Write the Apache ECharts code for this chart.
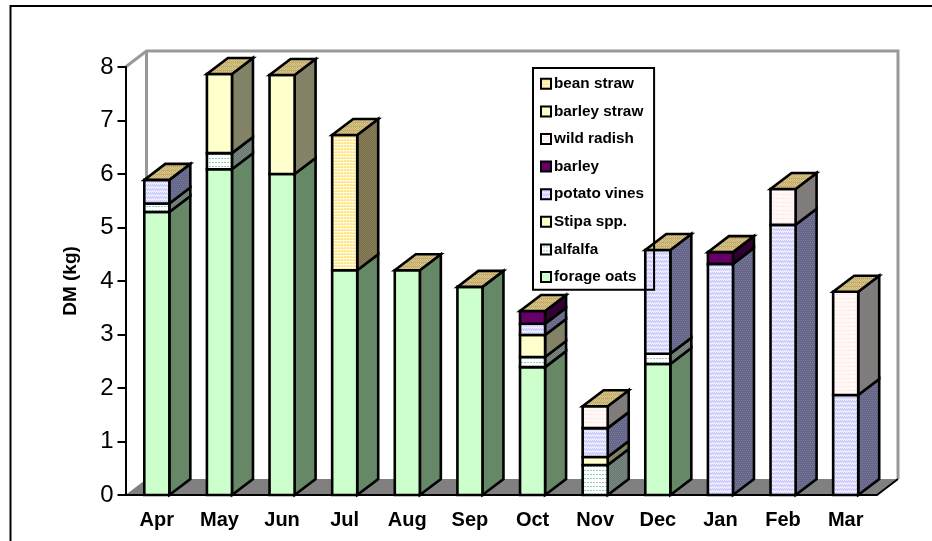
<!DOCTYPE html>
<html>
<head>
<meta charset="utf-8">
<title>DM by month</title>
<style>
  html, body { margin: 0; padding: 0; background: #fff; }
  #chart { width: 932px; height: 541px; }
</style>
<script src="https://cdn.jsdelivr.net/npm/echarts@6/dist/echarts.min.js"></script>
</head>
<body>
<div id="chart"></div>
<script>
var months = ["Apr", "May", "Jun", "Jul", "Aug", "Sep", "Oct", "Nov", "Dec", "Jan", "Feb", "Mar"];
var forageOats  = [5.29, 6.09, 6.00, 4.20, 4.20, 3.89, 2.39, 0, 2.45, 0, 0, 0];
var alfalfa     = [0.16, 0.30, 0, 0, 0, 0, 0.19, 0.56, 0.19, 0, 0, 0];
var stipa       = [0, 0, 0, 0, 0, 0, 0.41, 0.15, 0, 0, 0, 0];
var potatoVines = [0.44, 0, 0, 0, 0, 0, 0.21, 0.54, 1.94, 4.32, 5.05, 1.87];
var barley      = [0, 0, 0, 0, 0, 0, 0.24, 0, 0, 0.22, 0, 0];
var wildRadish  = [0, 0, 0, 0, 0, 0, 0, 0.41, 0, 0, 0.67, 1.93];
var barleyStraw = [0, 1.48, 1.85, 0, 0, 0, 0, 0, 0, 0, 0, 0];
var beanStraw   = [0, 0, 0, 2.53, 0, 0, 0, 0, 0, 0, 0, 0];
var legendOrder = ["bean straw", "barley straw", "wild radish", "barley", "potato vines", "Stipa spp.", "alfalfa", "forage oats"];

var FONT = "Liberation Sans";
var DEPTH_X = 21, DEPTH_Y = 16, BAR_RATIO = 0.4;

// small repeating fill, rows = array of strings, one char per pixel
function tile(colors, rows) {
  var c = document.createElement("canvas");
  c.width = rows[0].length;
  c.height = rows.length;
  var ctx = c.getContext("2d");
  rows.forEach(function (row, y) {
    row.split("").forEach(function (k, x) {
      ctx.fillStyle = colors[k];
      ctx.fillRect(x, y, 1, 1);
    });
  });
  return { image: c, repeat: "repeat" };
}
var dots = ["aaa", "aaa", "bab", "aaa"];
var rowsFine = ["ab", "aa", "ba", "bb"];

var topFill = tile({ a: "#c4ad6c", b: "#d8c98c" }, ["ab", "ba", "aa", "ba"]);

var speciesList = [
  { name: "forage oats", values: forageOats, front: "#ccffcc", side: "#668866" },
  { name: "alfalfa", values: alfalfa, front: tile({ a: "#ffffff", b: "#8fcfb8" }, dots), side: tile({ a: "#7c8a84", b: "#66766f" }, ["ab", "ba"]) },
  { name: "Stipa spp.", values: stipa, front: "#ffffcc", side: "#828266" },
  { name: "potato vines", values: potatoVines, front: tile({ a: "#ccccff", b: "#eeeeff" }, rowsFine), side: tile({ a: "#666688", b: "#77779a" }, ["ab", "aa", "ba", "aa"]) },
  { name: "barley", values: barley, front: "#660066", side: "#330033" },
  { name: "wild radish", values: wildRadish, front: tile({ a: "#fff8f6", b: "#fde6e2" }, dots), side: "#807c7b" },
  { name: "barley straw", values: barleyStraw, front: "#ffffcc", side: "#828266" },
  { name: "bean straw", values: beanStraw, front: tile({ a: "#ffe68a", b: "#fffde8" }, ["bbb", "aba", "aaa"]), side: tile({ a: "#8c7c48", b: "#75705c" }, ["ab", "ba"]) }
];

function polygon(points, fill) {
  return {
    type: "polygon",
    shape: { points: points },
    style: { fill: fill, stroke: "#000", lineWidth: 2.6, lineJoin: "miter" }
  };
}

function renderBar(front, side) {
  return function (params, api) {
    var lo = api.coord([api.value(0), api.value(1)]);
    var hi = api.coord([api.value(0), api.value(2)]);
    var w = api.size([1, 0])[0] * BAR_RATIO;
    var x0 = lo[0] - w / 2, x1 = lo[0] + w / 2;
    var children = [
      polygon([[x1, lo[1]], [x1 + DEPTH_X, lo[1] - DEPTH_Y], [x1 + DEPTH_X, hi[1] - DEPTH_Y], [x1, hi[1]]], side),
      polygon([[x0, lo[1]], [x1, lo[1]], [x1, hi[1]], [x0, hi[1]]], front)
    ];
    if (api.value(3)) {
      children.push(polygon([[x0, hi[1]], [x1, hi[1]], [x1 + DEPTH_X, hi[1] - DEPTH_Y], [x0 + DEPTH_X, hi[1] - DEPTH_Y]], topFill));
    }
    return { type: "group", children: children };
  };
}

// running stack per month
var totals = months.map(function (m, i) {
  return speciesList.reduce(function (s, sp) { return s + sp.values[i]; }, 0);
});
var running = months.map(function () { return 0; });

var barSeries = speciesList.map(function (sp) {
  var data = [];
  sp.values.forEach(function (v, i) {
    if (!v) return;
    var base = running[i];
    running[i] = base + v;
    data.push([i, base, running[i], Math.abs(running[i] - totals[i]) < 1e-6 ? 1 : 0]);
  });
  return {
    name: sp.name,
    type: "custom",
    z: 3,
    itemStyle: { color: sp.front },
    encode: { x: 0, y: [1, 2] },
    renderItem: renderBar(sp.front, sp.side),
    data: data
  };
});

// back wall and floor of the 3d box
var wallSeries = {
  type: "custom",
  silent: true,
  z: 0,
  data: [[0, 0]],
  renderItem: function (params) {
    var g = params.coordSys;
    var l = g.x, r = g.x + g.width, t = g.y, b = g.y + g.height;
    var grey = { stroke: "#999999", lineWidth: 3, fill: null };
    return {
      type: "group",
      children: [
        { type: "polygon", shape: { points: [[l, b], [l + DEPTH_X, b - DEPTH_Y], [r + DEPTH_X, b - DEPTH_Y], [r, b]] }, style: { fill: "#808080" } },
        { type: "polyline", shape: { points: [[l, t], [l + DEPTH_X, t - DEPTH_Y], [r + DEPTH_X, t - DEPTH_Y], [r + DEPTH_X, b - DEPTH_Y]] }, style: grey },
        { type: "line", shape: { x1: l + DEPTH_X, y1: t - DEPTH_Y, x2: l + DEPTH_X, y2: b - DEPTH_Y }, style: grey },
        { type: "line", shape: { x1: r, y1: b, x2: r + DEPTH_X, y2: b - DEPTH_Y }, style: { stroke: "#000", lineWidth: 2 } }
      ]
    };
  }
};

var chart = echarts.init(document.getElementById("chart"));
chart.setOption({
  animation: false,
  backgroundColor: "#ffffff",
  grid: { left: 125.5, right: 55, top: 67, bottom: 46 },
  xAxis: {
    type: "category",
    data: months,
    z: 1,
    axisLine: { lineStyle: { color: "#000", width: 2 } },
    axisTick: { length: 7, alignWithLabel: false, lineStyle: { color: "#000", width: 2 } },
    axisLabel: { color: "#000", fontFamily: FONT, fontWeight: "bold", fontSize: 20, margin: 15, interval: 0 }
  },
  yAxis: {
    type: "value",
    min: 0,
    max: 8,
    interval: 1,
    z: 1,
    name: "DM (kg)",
    nameLocation: "middle",
    nameRotate: 90,
    nameGap: 45,
    nameTextStyle: { color: "#000", fontFamily: FONT, fontWeight: "bold", fontSize: 19 },
    splitLine: { show: false },
    axisLine: { show: true, lineStyle: { color: "#000", width: 2 } },
    axisTick: { show: true, length: 8, lineStyle: { color: "#000", width: 2 } },
    axisLabel: { color: "#000", fontFamily: FONT, fontSize: 24, margin: 12 }
  },
  legend: {
    data: legendOrder,
    orient: "vertical",
    left: 533,
    top: 68,
    z: 10,
    padding: [7, 10, 4, 7],
    itemWidth: 10,
    itemHeight: 10,
    itemGap: 10,
    selectedMode: false,
    borderColor: "#000",
    borderWidth: 2,
    icon: "rect",
    itemStyle: { borderColor: "#000", borderWidth: 2 },
    textStyle: { color: "#000", fontFamily: FONT, fontWeight: "bold", fontSize: 15.3, padding: [0, 0, 0, -2], lineHeight: 17.6 }
  },
  graphic: [
    { type: "polyline", z: 0, shape: { points: [[10.5, 541], [10.5, 6], [932, 6]] }, style: { stroke: "#000", lineWidth: 2, fill: null } }
  ],
  series: [wallSeries].concat(barSeries)
});
</script>
</body>
</html>
